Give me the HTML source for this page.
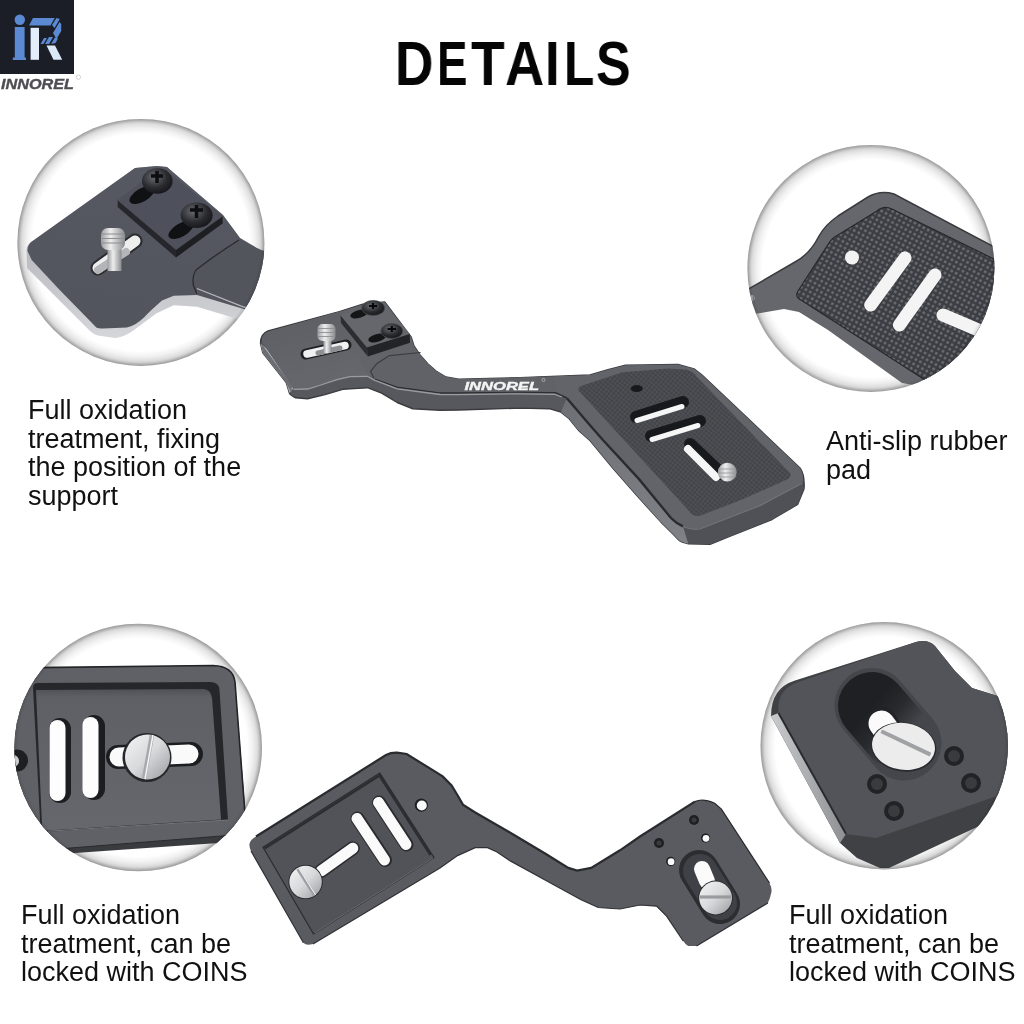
<!DOCTYPE html>
<html><head><meta charset="utf-8">
<style>
html,body{margin:0;padding:0;background:#fff;width:1024px;height:1024px;overflow:hidden}
body{position:relative;font-family:"Liberation Sans",sans-serif}
svg{position:absolute;left:0;top:0;will-change:transform}
.t{position:absolute;font-size:27px;line-height:28.7px;color:#111;white-space:nowrap;will-change:transform}
.tl{position:absolute;will-change:transform;top:28px;font-weight:bold;font-size:63px;line-height:70px;color:#050505;white-space:nowrap;transform-origin:0 0}
</style></head><body>
<svg width="1024" height="1024" viewBox="0 0 1024 1024">
<defs>
 <radialGradient id="vig" cx="0.5" cy="0.5" r="0.5">
  <stop offset="0.879" stop-color="#fff"/>
  <stop offset="0.903" stop-color="#f8f8f8"/>
  <stop offset="0.927" stop-color="#f0f0f0"/>
  <stop offset="0.96" stop-color="#dedede"/>
  <stop offset="0.976" stop-color="#cdcdcd"/>
  <stop offset="0.992" stop-color="#b8b8b8"/>
  <stop offset="1" stop-color="#b0b0b0"/>
 </radialGradient>
 <radialGradient id="vigo" cx="0.5" cy="0.5" r="0.5">
  <stop offset="0.97" stop-color="#000" stop-opacity="0"/>
  <stop offset="1" stop-color="#000" stop-opacity="0.12"/>
 </radialGradient>
 <linearGradient id="silver" x1="0" y1="0" x2="1" y2="1">
  <stop offset="0" stop-color="#f4f4f4"/><stop offset="0.5" stop-color="#d8d9db"/><stop offset="1" stop-color="#9a9b9e"/>
 </linearGradient>
 <linearGradient id="stud" x1="0" y1="0" x2="1" y2="0">
  <stop offset="0" stop-color="#9c9da0"/><stop offset="0.4" stop-color="#eeeeee"/><stop offset="1" stop-color="#8a8b8e"/>
 </linearGradient>
 <radialGradient id="phil" cx="0.4" cy="0.35" r="0.7">
  <stop offset="0" stop-color="#6a6b70"/><stop offset="0.6" stop-color="#2a2b2f"/><stop offset="1" stop-color="#151518"/>
 </radialGradient>
 <pattern id="dots" width="3.4" height="3.4" patternUnits="userSpaceOnUse" patternTransform="rotate(40)">
  <rect width="3.4" height="3.4" fill="#44454a"/>
  <path d="M0,0 L3.4,0 M0,0 L0,3.4" stroke="#5a5b60" stroke-width="0.8"/>
 </pattern>
 <pattern id="dots2" width="5" height="5" patternUnits="userSpaceOnUse" patternTransform="rotate(28)">
  <rect width="5" height="5" fill="#3c3d42"/>
  <circle cx="2.5" cy="2.5" r="1.4" fill="#6e6f74"/>
 </pattern>
 <linearGradient id="ovalg" x1="0" y1="0" x2="1" y2="1">
  <stop offset="0" stop-color="#1f2024"/><stop offset="0.5" stop-color="#2a2b2f"/><stop offset="1" stop-color="#45464b"/>
 </linearGradient>
 <linearGradient id="c3panel" x1="0" y1="0" x2="0" y2="1">
  <stop offset="0" stop-color="#505156"/><stop offset="0.06" stop-color="#5f6065"/><stop offset="1" stop-color="#66676c"/>
 </linearGradient>
 <linearGradient id="c4silv" x1="1" y1="0" x2="0" y2="0">
  <stop offset="0" stop-color="#8e9094"/><stop offset="1" stop-color="#c8cacd"/>
 </linearGradient>
 <clipPath id="c1"><circle cx="140.9" cy="242.4" r="123.5"/></clipPath>
 <clipPath id="c2"><circle cx="870.9" cy="268.4" r="123.5"/></clipPath>
 <clipPath id="c3"><circle cx="138.2" cy="747.5" r="123.8"/></clipPath>
 <clipPath id="c4"><circle cx="884.2" cy="745.7" r="123.7"/></clipPath>
</defs>

<!-- ============ LOGO ============ -->
<rect x="0" y="0" width="74" height="74" fill="#1c1e27"/>
<circle cx="19.8" cy="19.8" r="5.2" fill="#5b8ad2"/>
<path d="M14.8,27 L24.6,27 L24.6,57.5 L26,57.5 L26,60 L12.8,60 L12.8,57.5 L14.8,57.5 Z" fill="#5b8ad2"/>
<rect x="30.6" y="27.8" width="8.4" height="32" fill="#e4eefa"/>
<path d="M29,25.5 L50.5,25.5 L54.7,18.1 L33,18.1 Z" fill="#5b8ad2"/>
<path d="M52,25 L56.5,18 L59.8,19 L54.5,28 Z M53,33 L59.5,22 L61.2,24 L61.2,31 L56.5,39 Z M40.5,44 L44,38 L47,38 L43.5,44 Z M45,44 L49,37 L53,37 L49,44 Z M51,44 L55,37.5 L58,38.5 L55.5,43 Z" fill="#5b8ad2"/>
<path d="M46.5,45.5 L55,45.5 L62.2,59.8 L53.5,59.8 Z" fill="#dbe8f8"/>
<text x="1" y="88.8" font-family="Liberation Sans" font-weight="bold" font-style="italic" font-size="15.2" fill="#4e4e53" stroke="#4e4e53" stroke-width="0.35" textLength="73" lengthAdjust="spacingAndGlyphs">INNOREL</text>
<circle cx="78.4" cy="77.2" r="2.2" fill="none" stroke="#bbb" stroke-width="0.6"/>

<!-- ============ CIRCLES ============ -->
<circle cx="140.9" cy="242.4" r="123.5" fill="url(#vig)"/>
<circle cx="870.9" cy="268.4" r="123.5" fill="url(#vig)"/>
<circle cx="138.2" cy="747.5" r="123.8" fill="url(#vig)"/>
<circle cx="884.2" cy="745.7" r="123.7" fill="url(#vig)"/>

<!-- circle 1 content -->
<defs>
 <linearGradient id="c1bev" x1="0" y1="0" x2="0" y2="1">
  <stop offset="0" stop-color="#9fa1a6"/><stop offset="1" stop-color="#d4d6da"/>
 </linearGradient>
 <linearGradient id="c1top" x1="0.6" y1="0" x2="0.3" y2="1">
  <stop offset="0" stop-color="#565862"/><stop offset="1" stop-color="#53555d"/>
 </linearGradient>
</defs>
<g clip-path="url(#c1)">
 <!-- silhouette incl. bevel -->
 <path d="M26.5,252 Q26,244 34,240 L135,168 L157,166 L167,167 L223,215 L240,238 L270,256 L270,326 L232,317.3 L196.9,306.7 L173.75,305.2 L156.2,313.4 L132.7,331 Q124,337 115.2,338 L97.6,335.6 Q93,334 90,331 L27,268 Z" fill="url(#c1bev)"/>
 <!-- top face -->
 <path d="M27.5,251 Q27,244 34,240 L135,168 L157,166 L167,167 L223,215 L240,238 L270,256 L270,312 L243.8,309 L196.9,295 L173.75,295.8 L162,300.5 Q150,311 144.5,316.9 Q135,326 126.9,327.4 L103.4,328.6 Q98,328.5 96.4,327.5 L59.7,290 L31.7,260 Z" fill="url(#c1top)"/>
 <!-- arm raised face -->
 <path d="M239,240 Q215,255 196,270 Q192,276 193.4,285.6 L196.9,293.8 L196.9,288 L243.8,306.7 L270,312 L270,250 L262.5,250.5 Z" fill="#53555d"/>
 <path d="M239,240 Q215,255 196,270 Q192,276 193.4,285.6 L196.9,293.8" fill="none" stroke="#2a2b2e" stroke-width="1.3"/>
 <path d="M196.9,288.5 L243.8,307 L270,312" fill="none" stroke="#b5b7bb" stroke-width="1.3"/>
 <!-- block -->
 <path d="M117.7,200 L161.6,167.1 L222.6,215.9 L176,249.5 Z" fill="#4e505c"/>
 <path d="M117.7,200 L176,249.5 L176,257.5 L117.7,207 Z" fill="#26272c"/>
 <path d="M176,249.5 L222.6,215.9 L222.6,223.5 L176,257.5 Z" fill="#1e1f23"/>
 <path d="M117.7,200 L176,249.5 L222.6,215.9" fill="none" stroke="#55565b" stroke-width="0.8"/>
 <!-- slot recesses -->
 <ellipse cx="142" cy="195" rx="14" ry="6.5" transform="rotate(-30 142 195)" fill="#101113"/>
 <ellipse cx="181" cy="230" rx="14" ry="6.5" transform="rotate(-30 181 230)" fill="#101113"/>
 <!-- phillips screws -->
 <ellipse cx="157.3" cy="181" rx="15.3" ry="12.7" fill="url(#phil)"/>
 <path d="M151,176 L163,176 M157,171 L157,183" stroke="#0e0e10" stroke-width="3.5"/>
 <ellipse cx="196.6" cy="215.3" rx="16" ry="12.8" fill="url(#phil)"/>
 <path d="M190,210 L203,210 M196.5,205 L196.5,218" stroke="#0e0e10" stroke-width="3.5"/>
 <!-- stud slot -->
 <path d="M135,241 L98,268" stroke="#2a2b2e" stroke-width="15" stroke-linecap="round"/>
 <path d="M135,241 L98,268" stroke="#eeeeef" stroke-width="11" stroke-linecap="round"/>
 <path d="M126,252 L98,270" stroke="#b4b5b8" stroke-width="8" stroke-linecap="round"/>
 <!-- stud -->
 <rect x="107.5" y="245" width="14" height="26" fill="url(#stud)"/>
 <rect x="101" y="228" width="24" height="22" rx="7" fill="url(#stud)"/>
 <path d="M102,234 L124,234 M102,238.5 L124,238.5 M102,243 L124,243" stroke="#8d8e92" stroke-width="1"/>
</g>
<circle cx="140.9" cy="242.4" r="123.5" fill="url(#vigo)"/>

<!-- circle 2 content -->
<g clip-path="url(#c2)">
 <path d="M740,294 L795,262 Q810,254 819,236 Q825,225 838,216 L868,197 Q880,190 894,194 L1000,250 L1000,400 L902,383 L828,330 L799,312 L784,309 L759,313.3 L740,316 Z" fill="#66676c"/>
 <path d="M740,294 L795,262 Q810,254 819,236 Q825,225 838,216 L868,197 Q880,190 894,194 L1000,250" fill="none" stroke="#3a3b3f" stroke-width="1.5"/>
 <path d="M799,299 Q795,296 798,291 L829,243 Q832,238 838,235 L877,211 Q884,205 892,209 L1000,262 L1000,400 L925,380 L801,300 Z" fill="url(#dots2)" stroke="#26272b" stroke-width="1.2"/>
 <text x="749.5" y="300.5" font-family="Liberation Sans" font-size="7" fill="#ddd">®</text>
 <circle cx="852" cy="257.5" r="7" fill="#f2f2f2"/>
 <path d="M870.7,305 L905,258" stroke="#f4f4f4" stroke-width="13" stroke-linecap="round"/>
 <path d="M899.4,325 L935,275" stroke="#f4f4f4" stroke-width="13" stroke-linecap="round"/>
 <path d="M943,315 L990,335" stroke="#f4f4f4" stroke-width="13" stroke-linecap="round"/>
</g>
<circle cx="870.9" cy="268.4" r="123.5" fill="url(#vigo)"/>

<!-- circle 3 content -->
<g clip-path="url(#c3)">
 <path d="M0,668 L213,665.5 Q233,666 235,682 L247.4,836 L247,841 L75,853 L0,858 Z" fill="#3a3b3f"/>
 <path d="M0,668 L213,665.5 Q233,666 235,682 L246.5,834 L64,848.5 L0,852 Z" fill="#606166"/>
 <path d="M0,668 L213,665.5 Q233,666 235,682 L246.5,834" fill="none" stroke="#232427" stroke-width="1.6"/>
 <path d="M64,848.5 L246.5,834" fill="none" stroke="#2a2b2f" stroke-width="1.2"/>
 <!-- inner panel -->
 <path d="M33,688 Q33,683 38,683 L210,682 Q219,682 219.5,690 L228,820 L48,831.7 Q41,831 40.5,828 Z" fill="#26272b"/>
 <path d="M36,690 L204,689 Q211,690 212,698 L221,819.5 L48,830.5 Q43,830 42,825 Z" fill="url(#c3panel)"/>
 <path d="M48,831.2 L228,820" stroke="#75767b" stroke-width="1"/>
 <!-- slots -->
 <path d="M60,729 L60,792" stroke="#1c1d20" stroke-width="22" stroke-linecap="round"/>
 <path d="M57.5,728 L57.5,793" stroke="#fdfdfd" stroke-width="16" stroke-linecap="round"/>
 <path d="M94,726 L94,789" stroke="#1c1d20" stroke-width="22" stroke-linecap="round"/>
 <path d="M90.5,725 L90.5,790" stroke="#fdfdfd" stroke-width="16" stroke-linecap="round"/>
 <!-- key slot -->
 <path d="M118,757 L191,754" stroke="#1c1d20" stroke-width="24" stroke-linecap="round"/>
 <path d="M119,757 L189,754" stroke="#fafafa" stroke-width="19" stroke-linecap="round"/>
 <!-- coin screw -->
 <circle cx="147" cy="757.5" r="24.5" fill="#26272a"/>
 <circle cx="147.5" cy="757" r="22.5" fill="url(#silver)"/>
 <path d="M152,735 L144,779" stroke="#a8a9ac" stroke-width="4.5"/>
 <path d="M153,735 L145,779" stroke="#f8f8f8" stroke-width="1.4"/>
 <circle cx="17" cy="760.5" r="11" fill="#1e1f22"/>
 <circle cx="13" cy="761" r="6" fill="#d8d8d8"/>
</g>
<circle cx="138.2" cy="747.5" r="123.8" fill="url(#vigo)"/>

<!-- circle 4 content -->
<g clip-path="url(#c4)">
 <path d="M771,716 Q771,688 795,680.5 L916,642 Q928,639 935,646 L955,671 L972,688 L1010,700 L1010,812 L990,821 L889,868 L880,868 L857,858 L840,843 Z" fill="#404145"/>
 <path d="M771,716 L778.5,713 L846,834 L840,843 Z" fill="url(#c4silv)"/>
 <path d="M778.5,713 Q776.5,690 797,682.5 L916,642 Q928,639 935,646 L955,671 L972,688 L1010,700 L1010,795 L994,797 L876,838 L846,834 Z" fill="#535459"/>
 <path d="M778.5,713 L846,834" stroke="#2a2b2f" stroke-width="2"/>
 <!-- oval recess -->
 <path d="M872,705.5 L904,743" stroke="#45464b" stroke-width="75" stroke-linecap="round"/>
 <path d="M872,706 L902,741" stroke="url(#ovalg)" stroke-width="68" stroke-linecap="round"/>
 <path d="M881.5,722.5 L890,735" stroke="#222327" stroke-width="31" stroke-linecap="round"/>
 <path d="M881.5,723.5 L890,735" stroke="#fbfbfb" stroke-width="26" stroke-linecap="round"/>
 <ellipse cx="903.5" cy="747" rx="33" ry="24.5" transform="rotate(8 903.5 747)" fill="#2a2b2f"/>
 <ellipse cx="903.5" cy="746.4" rx="31.6" ry="23.4" transform="rotate(8 903.5 746.4)" fill="#ececec"/>
 <path d="M881.3,731.2 L930.5,754.6" stroke="#a0a1a4" stroke-width="4"/>
 <!-- threaded holes -->
 <circle cx="954" cy="756" r="10" fill="#222326"/><circle cx="954" cy="756" r="6" fill="#3a3b3f"/>
 <circle cx="877" cy="784" r="10" fill="#222326"/><circle cx="877" cy="784" r="6" fill="#3a3b3f"/>
 <circle cx="971" cy="783" r="10" fill="#222326"/><circle cx="971" cy="783" r="6" fill="#3a3b3f"/>
 <circle cx="894" cy="811" r="10" fill="#222326"/><circle cx="894" cy="811" r="6" fill="#3a3b3f"/>
</g>
<circle cx="884.2" cy="745.7" r="123.7" fill="url(#vigo)"/>

<!-- ============ TOP PRODUCT ============ -->
<defs>
 <linearGradient id="tpSideR" x1="0" y1="0" x2="0" y2="1">
  <stop offset="0" stop-color="#6e6f74"/><stop offset="1" stop-color="#808186"/>
 </linearGradient>
 <linearGradient id="tpTop" x1="0" y1="0" x2="0.3" y2="1">
  <stop offset="0" stop-color="#5d5e63"/><stop offset="1" stop-color="#66676c"/>
 </linearGradient>
</defs>
<!-- silhouette = front faces -->
<path d="M260.5,343.4 Q260.5,334 268,331 L339.4,311.6 L362.8,304.2 L384.7,302 L411.25,337.2 L414,346 L420,355 L428,364 L436,371 L446,377 L458.6,379.3 L520,377.6 L590,375 L608,369.7 L625.5,365.3 L678,364.4 L694,368.8 L702,375 L800,468 Q805,475 804,489 L797.6,504.4 L772,519.5 L729,536.7 L710,544.3 L688.4,543.7 Q681,542 679,540.2 L672,533.1 L660.3,521.4 L636.9,495.6 L613.4,468.7 L590,440.5 L578.6,430.4 L569.2,418.7 L561,412.2 L549.3,408.7 L520,408.1 L458.6,410 L440,410.3 L412.8,408.75 L397.2,402.5 L381.6,393.1 L367.5,387.7 L358,388.4 L342.7,389.3 L325,394.6 L307.6,398.7 L295.6,397.8 Q290,395 289.4,393.1 L286.25,382.5 L262.8,352.8 Z" fill="#57585d" stroke="#3a3b3f" stroke-width="1.4" stroke-linejoin="round"/>
<!-- right plate left side face -->
<path d="M566.9,397.6 L590,424.9 L602.7,439.5 L638.8,478.6 L671,517.7 Q676,523 683,526 L688.4,543.7 Q681,542 679,540.2 L672,533.1 L660.3,521.4 L636.9,495.6 L613.4,468.7 L590,440.5 L578.6,430.4 L569.2,418.7 L561,412.2 Z" fill="url(#tpSideR)"/>
<!-- right plate bottom front face -->
<path d="M683,526 Q690,530 700,528.7 L760,505.3 L802,483 L804,489 L797.6,504.4 L772,519.5 L729,536.7 L710,544.3 L688.4,543.7 Z" fill="#505156"/>
<!-- left plate left side face -->
<path d="M260.5,343.4 L262.8,352.8 L286.25,382.5 L289.4,393.1 L293.5,388 L266.5,348.5 Z" fill="#a9abaf"/>
<!-- top faces -->
<path d="M262,341.5 Q261.5,334.5 268.5,331.5 L339.4,311.8 L362.8,304.4 L384.7,302 L411.25,337.2 L414,346 L420,355 L428,364 L436,371 L446,377 L458.6,379.3 L520,377.6 L590,375 L608,369.7 L625.5,365.3 L678,364.4 L694,368.8 L702,375 L800,468 Q805,475 802,483 L760,505.3 L700,528.7 Q690,530 683,526 L671,517.7 L638.8,478.6 L602.7,439.5 L590,424.9 L566.9,397.6 L555,392 L520,391.5 L459,392.3 L440,392.3 L397.2,386.5 L373.75,378 L367.5,376 L350,376.4 L337,379.4 L319.3,385.2 L307.6,388.7 L293.5,389 L267,348.5 Z" fill="#636469"/>
<path d="M262,341.5 Q261.5,334.5 268.5,331.5 L339.4,311.8 L367.5,376 L350,376.4 L337,379.4 L319.3,385.2 L307.6,388.7 L293.5,389 L267,348.5 Z" fill="url(#tpTop)"/>
<!-- edge lines -->
<path d="M375,379 L397.2,387 L440,392.8 L459,392.8 L520,392 L555,392.5 L566.9,398" fill="none" stroke="#2e2f33" stroke-width="1.4"/>
<path d="M293.5,389.3 L307.6,389 L319.3,385.5 L337,379.7 L350,376.7 L367.5,376.3 L373.75,379.8 L397.2,388.8 L440,394.5 L459,394.6 L520,393.8 L555,394.3 L562,397" fill="none" stroke="#9a9ca0" stroke-width="1.3"/>
<path d="M566.9,398.3 L590,425.2 L602.7,439.8 L638.8,478.9 L671,518 Q676,523.3 683,526.3" fill="none" stroke="#2a2b2f" stroke-width="2.4"/>
<path d="M683,526.3 Q690,530.2 700,529 L760,505.6 L802,483.3" fill="none" stroke="#727378" stroke-width="1.2"/>
<!-- arm raised top face -->
<path d="M370.6,371.25 L376.9,363.4 L389.4,355.6 L418,352.5 L420,355 L428,364 L436,371 L446,377 L458.6,379.3 L520,377.6 L555,377 L555,392 L520,391.5 L459,392.3 L440,392.3 L397.2,386.5 L373.75,378 Z" fill="#616267"/>
<path d="M373.75,378 L370.6,371.25 L376.9,363.4 L389.4,355.6 L420.6,352.5" fill="none" stroke="#3c3d41" stroke-width="1.2"/>
<!-- rubber pad -->
<path d="M579,391 Q577,388 581,386 L622.5,372.2 L668,368.5 L685,369.5 Q693,370 697,377 L790,473 Q792,477 787,479.5 L741,500 L700,515.8 Q693,517 690,512 Z" fill="url(#dots)"/>
<ellipse cx="636.7" cy="388.6" rx="6" ry="3.5" fill="#18191c"/>
<!-- pad slots -->
<path d="M636,417 L683,402" stroke="#18191c" stroke-width="12" stroke-linecap="round"/>
<path d="M637,420.5 L682,406.5" stroke="#f6f6f6" stroke-width="5" stroke-linecap="round"/>
<path d="M651,436 L700,421" stroke="#18191c" stroke-width="12" stroke-linecap="round"/>
<path d="M652,439.5 L698,425.5" stroke="#f6f6f6" stroke-width="5" stroke-linecap="round"/>
<path d="M690,444 L722,474" stroke="#18191c" stroke-width="12" stroke-linecap="round"/>
<path d="M688,449 L716,477" stroke="#f6f6f6" stroke-width="8" stroke-linecap="round"/>
<circle cx="727.3" cy="472.2" r="9.4" fill="url(#stud)"/>
<path d="M719,469 L735.5,469 M718.5,473 L736,473 M719,477 L735.5,477" stroke="#9a9b9f" stroke-width="0.9"/>
<!-- left plate details -->
<path d="M261,343 L266,350 L292,386 L291,392 L286,382.5 L263,353 Z" fill="#6d6e73"/>
<path d="M340.5,315.4 L382.5,301.7 L409.8,334 L366.9,347.6 Z" fill="#66676c"/>
<path d="M340.5,315.4 L366.9,347.6 L367.8,356.4 L341,323 Z" fill="#2c2d31"/>
<path d="M366.9,347.6 L409.8,334 L410,342.7 L367.8,356.4 Z" fill="#232427"/>
<ellipse cx="359" cy="314" rx="9" ry="4" transform="rotate(-15 359 314)" fill="#141517"/>
<ellipse cx="377" cy="338" rx="9" ry="4" transform="rotate(-15 377 338)" fill="#141517"/>
<ellipse cx="373.2" cy="308" rx="11.5" ry="7.5" fill="url(#phil)" stroke="#4a4b50" stroke-width="0.8"/>
<path d="M369,306 L377,306 M373,303 L373,309" stroke="#08080a" stroke-width="2.2"/>
<ellipse cx="391.8" cy="331" rx="11" ry="7.5" fill="url(#phil)" stroke="#4a4b50" stroke-width="0.8"/>
<path d="M387.5,329 L396,329 M391.8,326 L391.8,332" stroke="#08080a" stroke-width="2.2"/>
<path d="M346,345 L306,354" stroke="#1e1f22" stroke-width="11" stroke-linecap="round"/>
<path d="M345,345.5 L307,354" stroke="#f0f0f2" stroke-width="7.5" stroke-linecap="round"/>
<path d="M340,348 L318,353" stroke="#8e8f93" stroke-width="5" stroke-linecap="round"/>
<rect x="323.5" y="338" width="8" height="15" fill="url(#stud)"/>
<rect x="317.5" y="324" width="18" height="17" rx="5" fill="url(#stud)"/>
<path d="M318,328.5 L335,328.5 M318,332.5 L335,332.5 M318,336.5 L335,336.5" stroke="#8d8e92" stroke-width="0.9"/>
<!-- INNOREL text on arm -->
<text x="464.5" y="390" font-family="Liberation Sans" font-weight="bold" font-style="italic" font-size="10.5" fill="#f4f4f4" stroke="#f4f4f4" stroke-width="0.35" textLength="74.5" lengthAdjust="spacingAndGlyphs">INNOREL</text>
<circle cx="543.5" cy="380" r="1.6" fill="none" stroke="#ddd" stroke-width="0.5"/>

<!-- ============ BOTTOM PRODUCT ============ -->
<path d="M249.5,843.8 Q250,840 256,836.5 L386,755 Q391,752.5 397,752.7 L406.7,754 L442.7,776.4 L451.6,785.4 L458,796 L462.9,804.6 L475.2,812.5 L510.3,832.7 L545.5,853.8 L568.3,867.9 L577.1,870.5 L591.2,867.9 L620,850.3 L640,836.5 L694.8,801.6 Q703,798 714.7,803.3 L721.4,809.1 L769.5,883 Q772.5,889 771.2,893 Q770,899 767.9,902.9 L696.5,946 L688.2,946 Q685,944 683.2,941 L666.6,916.2 L656.6,906.2 L640,905 L620,909 L598.2,907.5 L580.6,899.5 L545.5,880.2 L510.3,860.9 L497,852 L487.5,847.7 L475.2,847.7 L457.6,855.6 L440,867.9 L313,944 Q306,946 303.4,942.7 L251,851 Q249,847 249.5,843.8 Z" fill="#5a5b60"/>
<!-- top edge dark line -->
<path d="M256,836.5 L386,755 Q391,752.5 397,752.7 L406.7,754 L442.7,776.4 L451.6,785.4 L458,796 L462.9,804.6 L475.2,812.5 L510.3,832.7 L545.5,853.8 L568.3,867.9 L577.1,870.5 L591.2,867.9 L620,850.3 L640,836.5 L694.8,801.6" fill="none" stroke="#2a2b2f" stroke-width="2.2"/>
<path d="M694.8,801.6 Q703,798 714.7,803.3 L721.4,809.1 L769.5,883" fill="none" stroke="#2a2b2f" stroke-width="1.2"/>
<path d="M251,851 L303.4,942.7 M313,944 L440,867.9 L457.6,855.6 L475.2,847.7 L487.5,847.7 L497,852 L510.3,860.9 L545.5,880.2 L580.6,899.5 L598.2,907.5 L620,909 L640,905 L656.6,906.2 L666.6,916.2 L683.2,941 M696.5,946 L767.9,902.9" fill="none" stroke="#303135" stroke-width="1.2"/>
<!-- inner recessed panel -->
<path d="M263,847.2 L379.8,773.1 L434,857.5 L313.5,934 Z" fill="#525358" stroke="#2a2b2f" stroke-width="1.2" stroke-linejoin="round"/>
<path d="M264.5,848.5 L379.5,775.5 L430.5,855" fill="none" stroke="#2c2d31" stroke-width="2.5"/>
<path d="M314.5,933 L433,857.8" fill="none" stroke="#6e6f74" stroke-width="1"/>
<!-- slots -->
<path d="M357.5,818.5 L385,860" stroke="#2a2b2f" stroke-width="14" stroke-linecap="round"/>
<path d="M357,818.5 L384.5,860" stroke="#fafafa" stroke-width="11" stroke-linecap="round"/>
<path d="M379,802.5 L406.5,844.5" stroke="#2a2b2f" stroke-width="14" stroke-linecap="round"/>
<path d="M378.5,802.5 L406,844.5" stroke="#fafafa" stroke-width="11" stroke-linecap="round"/>
<path d="M321.4,870.8 L352.8,848.3" stroke="#2a2b2f" stroke-width="14" stroke-linecap="round"/>
<path d="M321.4,870.8 L352.8,848.3" stroke="#fafafa" stroke-width="11" stroke-linecap="round"/>
<circle cx="305.6" cy="882" r="17.2" fill="#2a2b2f"/>
<circle cx="305.6" cy="882" r="16.2" fill="url(#silver)"/>
<path d="M297.8,869 L314.6,895.5" stroke="#9d9ea1" stroke-width="3.2"/>
<path d="M298.8,868.5 L315.6,895" stroke="#f6f6f6" stroke-width="1"/>
<circle cx="421.3" cy="805.2" r="6.6" fill="#1f2023"/>
<circle cx="421.8" cy="805.5" r="5" fill="#fafafa"/>
<!-- right plate recess -->
<path d="M699,870 L720,904" stroke="#2c2d31" stroke-width="40" stroke-linecap="round"/>
<path d="M700,871 L720,903" stroke="#404146" stroke-width="34" stroke-linecap="round"/>
<path d="M702,869 L707,881" stroke="#fbfbfb" stroke-width="16" stroke-linecap="round"/>
<circle cx="715.6" cy="898" r="17.4" fill="#2a2b2f"/>
<circle cx="715.6" cy="898" r="16.4" fill="url(#silver)"/>
<path d="M700,897 L731,897" stroke="#9a9b9e" stroke-width="3.2"/>
<circle cx="694" cy="820" r="5" fill="#1e1f22"/><circle cx="694" cy="820" r="2.5" fill="#3a3b3f"/>
<circle cx="705.6" cy="838" r="4.6" fill="#1e1f22"/><circle cx="706" cy="838.3" r="3.4" fill="#fafafa"/>
<circle cx="659" cy="843" r="5" fill="#1e1f22"/><circle cx="659" cy="843" r="2.5" fill="#3a3b3f"/>
<circle cx="670.7" cy="861.4" r="4.6" fill="#1e1f22"/><circle cx="671.1" cy="861.7" r="3.4" fill="#fafafa"/>
</svg>

<div class="tl" style="left:394.9px;transform:scaleX(0.846)">D</div>
<div class="tl" style="left:437.2px;transform:scaleX(0.725)">E</div>
<div class="tl" style="left:471.0px;transform:scaleX(0.876)">T</div>
<div class="tl" style="left:504.5px;transform:scaleX(0.862)">A</div>
<div class="tl" style="left:545.2px;transform:scaleX(0.833)">I</div>
<div class="tl" style="left:563.8px;transform:scaleX(0.788)">L</div>
<div class="tl" style="left:596.1px;transform:scaleX(0.826)">S</div>

<div class="t" style="left:28px;top:395.7px">Full oxidation<br>treatment, fixing<br>the position of the<br>support</div>
<div class="t" style="left:826px;top:427px">Anti-slip rubber<br>pad</div>
<div class="t" style="left:21px;top:900.5px">Full oxidation<br>treatment, can be<br>locked with COINS</div>
<div class="t" style="left:788.5px;top:901px">Full oxidation<br>treatment, can be<br>locked with COINS</div>
</body></html>
